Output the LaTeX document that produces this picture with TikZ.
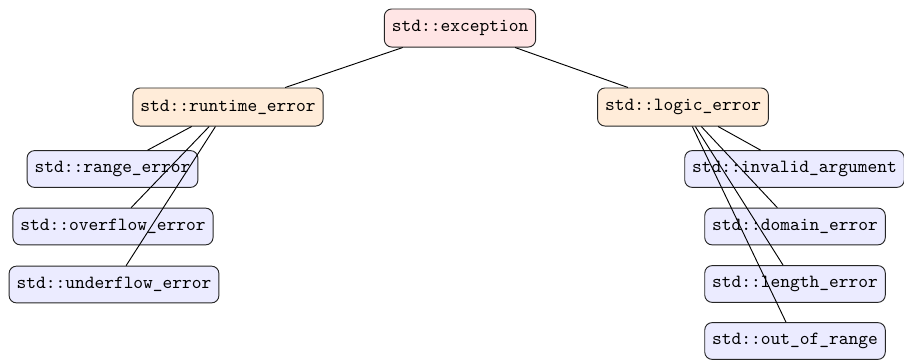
\documentclass[tikz,border=0pt]{standalone}
\usepackage{tikz}
\begin{document}
\begin{tikzpicture}[x=0.5385pt,y=-0.5385pt,
  cls/.style={draw=black!85, rounded corners=4pt, font=\ttfamily,
    inner xsep=4pt, inner ysep=0pt, minimum height=20.5pt, line width=0.5pt},
  rootcls/.style={cls, fill=red!10},
  midcls/.style={cls, fill=orange!15},
  leafcls/.style={cls, fill=blue!8, minimum height=19.8pt},
  link/.style={draw=black, line width=0.5pt}]
\useasboundingbox (0,0) rectangle (904,359);
% hierarchy of standard exception classes
\node[rootcls] (exc) at (460,28) {std::exception};
\node[midcls] (rt) at (228,107) {std::runtime\_error};
\node[midcls] (lg) at (683,107) {std::logic\_error};
\node[leafcls] (range) at (112.5,169) {std::range\_error};
\node[leafcls] (over) at (113,226.5) {std::overflow\_error};
\node[leafcls] (under) at (114,284.5) {std::underflow\_error};
\node[leafcls] (inv) at (794.5,169) {std::invalid\_argument};
\node[leafcls] (dom) at (795,226.5) {std::domain\_error};
\node[leafcls] (len) at (795,284) {std::length\_error};
\node[leafcls] (oor) at (795,341) {std::out\_of\_range};
% inheritance links
\draw[link] (exc) -- (rt);
\draw[link] (exc) -- (lg);
\draw[link] (rt) -- (range);
\draw[link] (rt) -- (over);
\draw[link] (rt) -- (under);
\draw[link] (lg) -- (inv);
\draw[link] (lg) -- (dom);
\draw[link] (lg) -- (len);
\draw[link] (lg) -- (oor);
\end{tikzpicture}
\end{document}
